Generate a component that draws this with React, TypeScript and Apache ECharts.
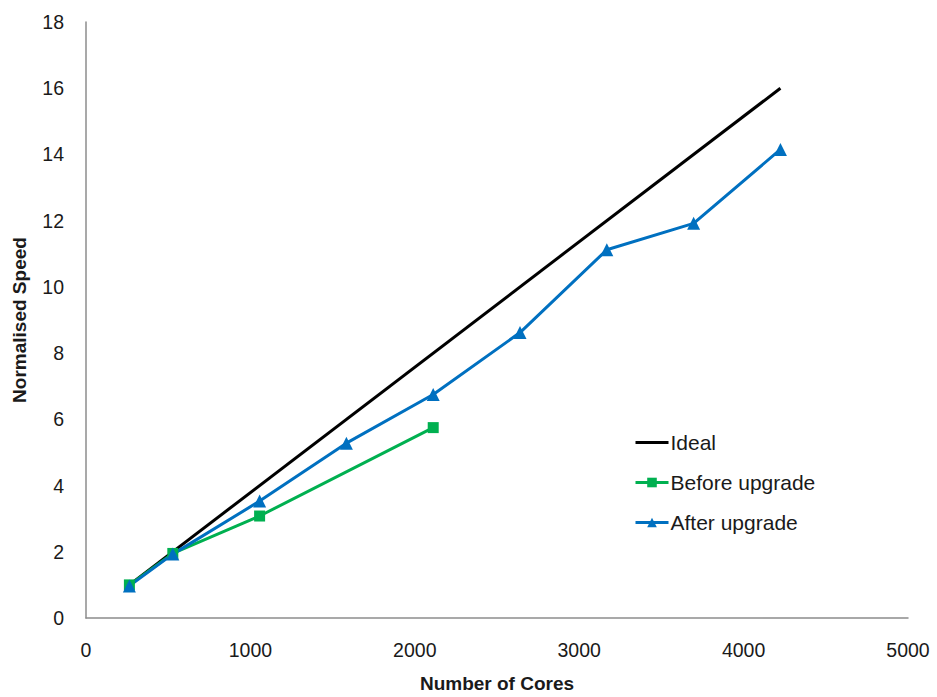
import React, { useEffect, useRef } from "react";
import * as echarts from "echarts";

const cores = [264, 528, 1056, 1584, 2112, 2640, 3168, 3696, 4224];
const idealCores = [264, 4224];
const idealSpeed = [1, 16];
const beforeCores = [264, 528, 1056, 2112];
const beforeSpeed = [1.0, 1.95, 3.08, 5.75];
const afterSpeed = [0.97, 1.93, 3.53, 5.28, 6.75, 8.62, 11.12, 11.92, 14.15];
const seriesNames = ["Ideal", "Before upgrade", "After upgrade"];

const FONT = "'Liberation Sans', Arial, sans-serif";

export default function App() {
  const ref = useRef<HTMLDivElement>(null);
  useEffect(() => {
    if (!ref.current) return;
    const chart = echarts.init(ref.current, undefined, { renderer: "svg" });
    const pair = (xs: number[], ys: number[]) => xs.map((x, i) => [x, ys[i]]);
    chart.setOption({
      animation: false,
      textStyle: { fontFamily: FONT },
      grid: { left: 86, top: 22, right: 29, bottom: 79, containLabel: false, outerBoundsMode: "none" },
      legend: {
        orient: "vertical",
        left: 634,
        top: 432,
        padding: 0,
        itemGap: 19,
        itemWidth: 33,
        itemHeight: 12,
        lineStyle: { width: 3 },
        data: [
          { name: seriesNames[0], itemStyle: { opacity: 0 } },
          seriesNames[1],
          seriesNames[2],
        ],
        textStyle: { fontSize: 21, color: "#1a1a1a", fontFamily: FONT, padding: [0, 0, 0, -3] },
      },
      xAxis: {
        type: "value",
        min: 0,
        max: 5000,
        interval: 1000,
        name: "Number of Cores",
        nameLocation: "middle",
        nameGap: 56,
        nameTextStyle: { fontSize: 19, fontWeight: "bold", color: "#1a1a1a", fontFamily: FONT },
        axisLine: { show: true, lineStyle: { color: "#8c8c8c", width: 1.5 } },
        axisTick: { show: false },
        splitLine: { show: false },
        axisLabel: { fontSize: 19.5, color: "#1a1a1a", margin: 22, fontFamily: FONT, formatter: (v: number) => String(v) },
      },
      yAxis: {
        type: "value",
        min: 0,
        max: 18,
        interval: 2,
        name: "Normalised Speed",
        nameLocation: "middle",
        nameGap: 57,
        nameTextStyle: { fontSize: 19, fontWeight: "bold", color: "#1a1a1a", fontFamily: FONT },
        axisLine: { show: true, lineStyle: { color: "#8c8c8c", width: 1.5 } },
        axisTick: { show: false },
        splitLine: { show: false },
        axisLabel: { fontSize: 19.5, color: "#1a1a1a", margin: 22, fontFamily: FONT, formatter: (v: number) => String(v) },
      },
      series: [
        {
          name: seriesNames[0],
          type: "line",
          data: pair(idealCores, idealSpeed),
          showSymbol: false,
          lineStyle: { color: "#000000", width: 3 },
          itemStyle: { color: "#000000" },
        },
        {
          name: seriesNames[1],
          type: "line",
          data: pair(beforeCores, beforeSpeed),
          symbol: "rect",
          symbolSize: 11,
          lineStyle: { color: "#00b050", width: 3 },
          itemStyle: { color: "#00b050" },
        },
        {
          name: seriesNames[2],
          type: "line",
          data: pair(cores, afterSpeed),
          symbol: "triangle",
          symbolSize: 13,
          lineStyle: { color: "#0070c0", width: 3 },
          itemStyle: { color: "#0070c0" },
        },
      ],
    });
    return () => chart.dispose();
  }, []);
  return <div ref={ref} style={{ width: 937, height: 697, position: "absolute", left: 0, top: 0, background: "#fff" }} />;
}
